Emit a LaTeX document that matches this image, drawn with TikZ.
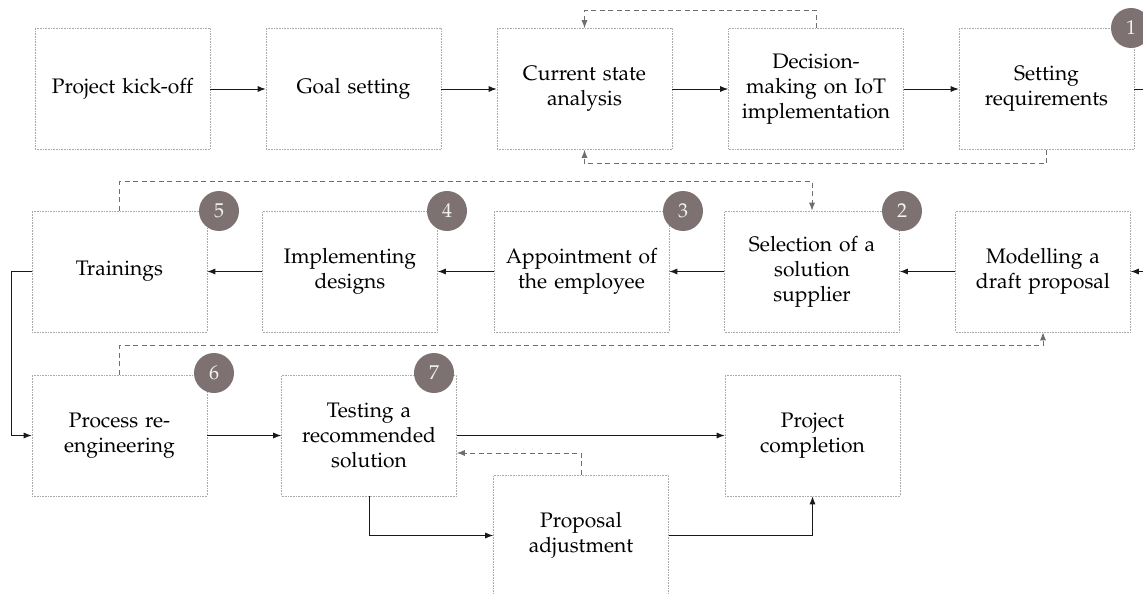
\documentclass[tikz,border=0pt]{standalone}
\usepackage[T1]{fontenc}
\renewcommand{\rmdefault}{ppl}
\usetikzlibrary{arrows.meta}
\definecolor{badgecol}{HTML}{7D7172}
\definecolor{boxline}{HTML}{AAAAAA}
\definecolor{dashcol}{HTML}{6E6E6E}
\begin{document}
\begin{tikzpicture}[x=1pt,y=-1pt,
  box/.style={draw=boxline, densely dotted, line width=0.6pt, minimum width=175pt, minimum height=121pt,
    inner sep=0pt, align=center, text width=172pt, font=\fontsize{21}{25}\selectfont, text=black},
  badge/.style={circle, fill=badgecol, minimum size=40pt, inner sep=0pt, text=white!95!black,
    font=\fontsize{20}{22}\selectfont},
  flow/.style={draw=black!90, line width=0.9pt, -{Latex[length=8pt,width=6pt]}},
  fb/.style={draw=dashcol, line width=0.9pt, dash pattern=on 5pt off 3.5pt, -{Latex[length=8pt,width=6pt]}}]
\useasboundingbox (0,0) rectangle (1143,594);
% row 1
\node[box] (A) at (122.5,89) {Project kick-off};
\node[box] (B) at (353.5,89) {Goal setting};
\node[box] (C) at (584.5,89) {Current state\\analysis};
\node[box] (D) at (816,89) {Decision-\\making on IoT\\implementation};
\node[box] (E) at (1046.5,89) {Setting\\requirements};
% row 2
\node[box] (Tr) at (119.5,271.5) {Trainings};
\node[box] (Im) at (350,271.5) {Implementing\\designs};
\node[box] (Ap) at (581.5,271.5) {Appointment of\\the employee};
\node[box] (Se) at (812,271.5) {Selection of a\\solution\\supplier};
\node[box] (Mo) at (1043,271.5) {Modelling a\\draft proposal};
% row 3
\node[box] (Pr) at (119.5,435.5) {Process re-\\engineering};
\node[box] (Te) at (369,435.5) {Testing a\\recommended\\solution};
\node[box] (Co) at (812.5,435.5) {Project\\completion};
\node[box] (Ad) at (581,535.5) {Proposal\\adjustment};
% badges
\node[badge] (b1) at (1131,28) {1};
\node[badge] (b2) at (902,211) {2};
\node[badge] (b3) at (683,211) {3};
\node[badge] (b4) at (447,211) {4};
\node[badge] (b5) at (219,211) {5};
\node[badge] (b6) at (214,373) {6};
\node[badge] (b7) at (434,373) {7};
% edge coordinates
\coordinate (eR) at (1145,89);
\coordinate (mR) at (1145,271.5);
% row 1 flow
\draw[flow] (A) -- (B);
\draw[flow] (B) -- (C);
\draw[flow] (C) -- (D);
\draw[flow] (D) -- (E);
\draw[draw=black!90, line width=0.9pt] (E.east) -- (eR);
% feedback row 1
\draw[fb] (D.north) -- ++(0,-18) -| (C.north);
\draw[fb] (E.south) -- ++(0,14) -| (C.south);
% row 2 flow
\draw[flow] (mR) -- (Mo.east);
\draw[flow] (Mo) -- (Se);
\draw[flow] (Se) -- (Ap);
\draw[flow] (Ap) -- (Im);
\draw[flow] (Im) -- (Tr);
\draw[fb] (Tr.north) -- ++(0,-29) -| (Se.north);
\draw[fb] (Pr.north) -- ++(0,-29) -| (Mo.south);
\draw[flow] (Tr.west) -- ++(-20,0) |- (Pr.west);
% row 3 flow
\draw[flow] (Pr) -- (Te);
\draw[flow] (Te) -- (Co);
\draw[fb] (Ad.north) |- ([yshift=-17.5pt]Te.east);
\draw[flow] (Te.south) |- (Ad.west);
\draw[flow] (Ad.east) -| (Co.south);
\end{tikzpicture}
\end{document}
